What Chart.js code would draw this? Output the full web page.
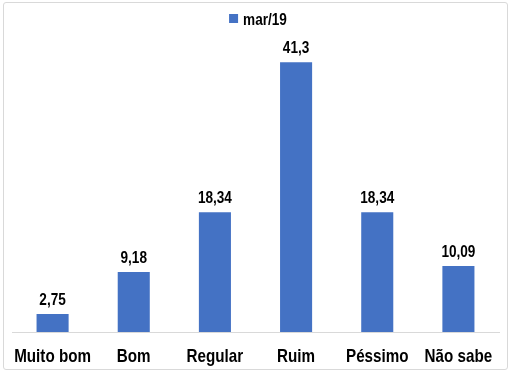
<!DOCTYPE html>
<html>
<head>
<meta charset="utf-8">
<script src="https://cdn.jsdelivr.net/npm/chart.js@4"></script>
<style>
  body { margin: 0; background: #fff; }
  #wrap { position: relative; width: 512px; height: 374px; }
  #frame {
    position: absolute; left: 3px; top: 2px; width: 503px; height: 366px;
    border: 1px solid #d9d9d9; border-radius: 3px;
  }
  canvas { position: absolute; left: 0; top: 0; }
</style>
</head>
<body>
<div id="wrap">
  <div id="frame"></div>
  <canvas id="chart" width="512" height="374"></canvas>
</div>
<script>
const categories = ["Muito bom", "Bom", "Regular", "Ruim", "Péssimo", "Não sabe"];
const seriesName = "mar/19";
const values = [2.75, 9.18, 18.34, 41.3, 18.34, 10.09];

const BAR_COLOR = "#4472C4";
const FONT = "'Liberation Sans', Arial, sans-serif";
const SQUEEZE = 0.8; // fake Arial Narrow look

// draws text squeezed horizontally, x is the anchor (center or left)
function narrowText(ctx, txt, x, y, size, align) {
  ctx.save();
  ctx.font = "bold " + size + "px " + FONT;
  ctx.fillStyle = "#000";
  ctx.textAlign = align || "center";
  ctx.textBaseline = "alphabetic";
  ctx.translate(x, y);
  ctx.scale(SQUEEZE, 1);
  ctx.fillText(txt, 0, 0);
  ctx.restore();
}

const textPlugin = {
  id: "textPlugin",
  afterDraw(chart) {
    const ctx = chart.ctx;
    const meta = chart.getDatasetMeta(0);
    const xScale = chart.scales.x;

    // values over bars
    meta.data.forEach((bar, i) => {
      narrowText(ctx, String(values[i]).replace(".", ","), bar.x, bar.y - 9, 17);
    });

    // category labels under the axis
    categories.forEach((c, i) => {
      narrowText(ctx, c, xScale.getPixelForTick(i), xScale.top + 30, 19);
    });

    // legend
    ctx.save();
    ctx.font = "bold 17px " + FONT;
    const tw = ctx.measureText(seriesName).width * SQUEEZE;
    ctx.restore();
    const total = 9 + 5 + tw;
    const lx = chart.width / 2 + 2 - total / 2;
    ctx.fillStyle = BAR_COLOR;
    ctx.fillRect(lx, 14, 9, 9);
    narrowText(ctx, seriesName, lx + 14, 25, 17, "left");
  }
};

const ctx = document.getElementById("chart").getContext("2d");
new Chart(ctx, {
  type: "bar",
  data: {
    labels: categories,
    datasets: [{
      label: seriesName,
      data: values,
      backgroundColor: BAR_COLOR,
      categoryPercentage: 1,
      barPercentage: 0.395
    }]
  },
  options: {
    responsive: false,
    animation: false,
    layout: { padding: { left: 12, right: 13, top: 38, bottom: 34 } },
    plugins: {
      legend: { display: false },
      tooltip: { enabled: false }
    },
    scales: {
      x: {
        grid: { display: false },
        border: { display: true, color: "#d9d9d9", width: 1 },
        ticks: { display: false }
      },
      y: {
        display: false,
        min: 0,
        max: 45
      }
    }
  },
  plugins: [textPlugin]
});
</script>
</body>
</html>
